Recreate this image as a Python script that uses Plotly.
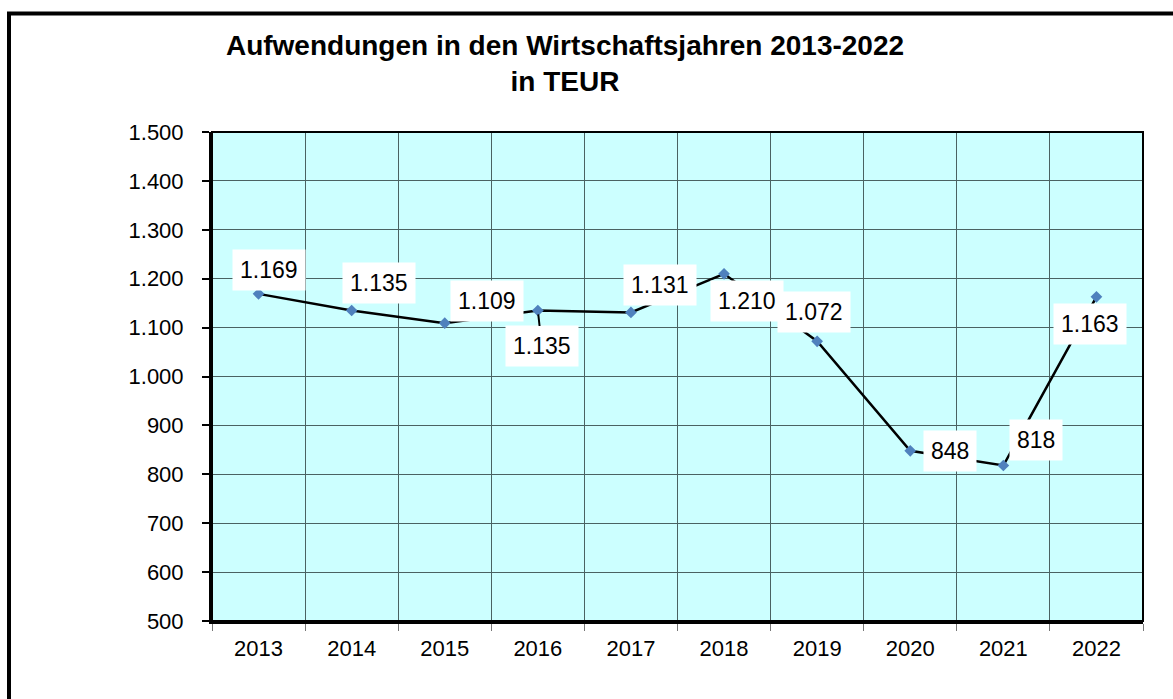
import plotly.graph_objects as go

# ---- data ----
years = ["2013", "2014", "2015", "2016", "2017", "2018", "2019", "2020", "2021", "2022"]
values = [1169, 1135, 1109, 1135, 1131, 1210, 1072, 848, 818, 1163]
y_ticks = [500, 600, 700, 800, 900, 1000, 1100, 1200, 1300, 1400, 1500]

# label offsets (pixels, from point to label centre) - style only
label_dx = [10, 27, 42, 4, 29, 23, -3, 40, 33, -6]
label_dy = [-24, -27, -22, 36, -27, 27, -29, 0, -26, 27]
leader = [False, False, False, True, False, False, False, False, False, False]

W, H = 1173, 699
L, R, T, B = 212, 1143, 132, 621
FONT = "Arial, Liberation Sans, sans-serif"

def de_fmt(v):
    return f"{v:,}".replace(",", ".")

fig = go.Figure()
fig.add_trace(go.Scatter(
    x=years, y=values, mode="lines+markers",
    line=dict(color="black", width=2.5),
    marker=dict(symbol="diamond", size=9, color="#4F81BD"),
    hoverinfo="x+y", showlegend=False,
))

for i, (v, dx, dy, ld) in enumerate(zip(values, label_dx, label_dy, leader)):
    a = dict(x=i, y=v, xref="x", yref="y", text=de_fmt(v),
             font=dict(family=FONT, size=23, color="black"),
             bgcolor="white", borderpad=7)
    if ld:
        a.update(showarrow=True, ax=dx, ay=dy, arrowhead=0,
                 arrowwidth=2, arrowcolor="black", standoff=4)
    else:
        a.update(showarrow=False, xshift=dx, yshift=-dy)
    fig.add_annotation(**a)

pw, ph = R - L, B - T
# outer frame (only top & left visible in reference)
fig.add_shape(type="rect", xref="paper", yref="paper",
              x0=(9 - L) / pw, x1=(W + 20 - L) / pw,
              y0=(B - (H + 20)) / ph, y1=(B - 13.5) / ph,
              line=dict(color="black", width=4), fillcolor="rgba(0,0,0,0)",
              layer="below")
# plot frame top/right
fig.add_shape(type="rect", xref="paper", yref="paper", x0=0, x1=1, y0=0, y1=1,
              line=dict(color="black", width=2), fillcolor="rgba(0,0,0,0)")

fig.update_layout(
    width=W, height=H,
    margin=dict(l=L, r=W - R, t=T, b=H - B),
    paper_bgcolor="white", plot_bgcolor="#CCFFFF",
    separators=",.",
    title=dict(text="Aufwendungen in den Wirtschaftsjahren 2013-2022<br>in TEUR",
               font=dict(family=FONT, size=28, color="black", weight="bold"),
               x=565 / W, xanchor="center", xref="container",
               y=1 - 55 / H, yanchor="top", yref="container"),
    font=dict(family=FONT, color="black"),
)
fig.update_xaxes(type="category", range=[-0.5, 9.5], tickson="boundaries",
                 showgrid=True, gridcolor="#4A6262", gridwidth=1,
                 ticks="outside", ticklen=7, tickcolor="#777777", tickwidth=1,
                 showline=True, linecolor="black", linewidth=3,
                 tickfont=dict(family=FONT, size=22, color="black"),
                 ticklabelstandoff=6, zeroline=False, fixedrange=True)
fig.update_yaxes(range=[500, 1500], tickvals=y_ticks, tickformat=",d",
                 showgrid=True, gridcolor="#4A6262", gridwidth=1,
                 ticks="outside", ticklen=7, tickcolor="black", tickwidth=2,
                 showline=True, linecolor="black", linewidth=3,
                 tickfont=dict(family=FONT, size=22, color="black"),
                 ticklabelstandoff=14, zeroline=False, fixedrange=True)

fig.write_html("out.html", config={"displayModeBar": False},
               post_script="document.body.style.margin='0';")
